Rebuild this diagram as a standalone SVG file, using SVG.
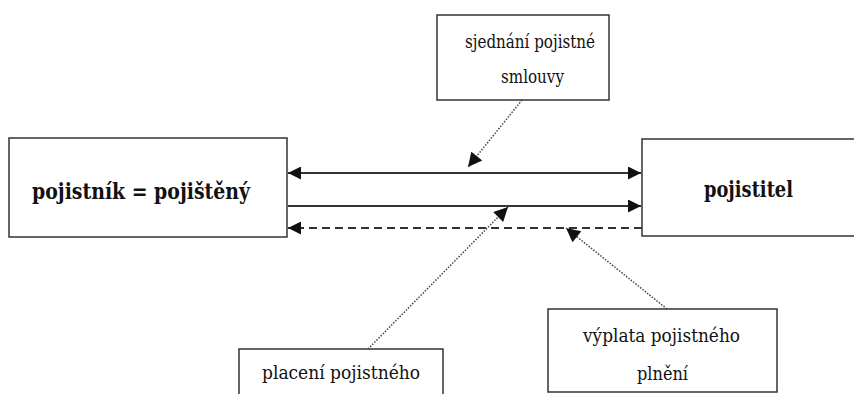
<svg xmlns="http://www.w3.org/2000/svg" width="854" height="394" viewBox="0 0 854 394">
<defs>
<style>
.box{fill:#fff;stroke:#333;stroke-width:1.5}
.t{font-family:"DejaVu Serif","Liberation Serif",serif;fill:#111}
.big{font-size:23px;font-weight:bold}
.sm{font-size:18.5px}
.main{stroke:#333;stroke-width:2.2;fill:none}
.dash{stroke:#333;stroke-width:2.2;fill:none;stroke-dasharray:8 5}
.dot{stroke:#444;stroke-width:1.5;fill:none;stroke-dasharray:1.5 1.5}
</style>
<marker id="ah" viewBox="0 0 10 10" refX="10" refY="5" markerWidth="16" markerHeight="13" markerUnits="userSpaceOnUse" orient="auto-start-reverse"><path d="M0,0 L10,5 L0,10 z" fill="#111"/></marker>
<marker id="ad" viewBox="0 0 10 10" refX="10" refY="5" markerWidth="16" markerHeight="14" markerUnits="userSpaceOnUse" orient="auto"><path d="M0,0 L10,5 L0,10 z" fill="#111"/></marker>
</defs>
<g id="n-pojistnik"><rect class="box" x="9" y="138" width="278" height="99"/><text class="t big" x="32" y="199" textLength="218" lengthAdjust="spacingAndGlyphs">pojistník = pojištěný</text></g>
<g id="n-pojistitel"><rect class="box" x="642" y="139" width="220" height="97"/><text class="t big" x="704" y="197" textLength="89" lengthAdjust="spacingAndGlyphs">pojistitel</text></g>
<g id="n-sjednani"><rect class="box" x="437" y="15" width="172" height="85"/><text class="t sm" x="465" y="48" textLength="130" lengthAdjust="spacingAndGlyphs">sjednání pojistné</text><text class="t sm" x="501" y="83" textLength="63" lengthAdjust="spacingAndGlyphs">smlouvy</text></g>
<g id="n-placeni"><rect class="box" x="239" y="349" width="204" height="60"/><text class="t sm" x="262" y="379" textLength="158" lengthAdjust="spacingAndGlyphs">placení pojistného</text></g>
<g id="n-vyplata"><rect class="box" x="548" y="309" width="229" height="83"/><text class="t sm" x="583" y="342" textLength="157" lengthAdjust="spacingAndGlyphs">výplata pojistného</text><text class="t sm" x="637" y="380" textLength="51" lengthAdjust="spacingAndGlyphs">plnění</text></g>
<g id="connectors">
<line class="main" x1="288" y1="173" x2="641" y2="173" marker-start="url(#ah)" marker-end="url(#ah)"/>
<line class="main" x1="288" y1="206" x2="641" y2="206" marker-end="url(#ah)"/>
<line class="dash" x1="642" y1="228" x2="288" y2="228" marker-end="url(#ah)"/>
<line class="dot" x1="522" y1="100" x2="468" y2="167" marker-end="url(#ad)"/>
<line class="dot" x1="368" y1="349" x2="508" y2="207" marker-end="url(#ad)"/>
<line class="dot" x1="667" y1="309" x2="566" y2="228" marker-end="url(#ad)"/>
</g>
</svg>
